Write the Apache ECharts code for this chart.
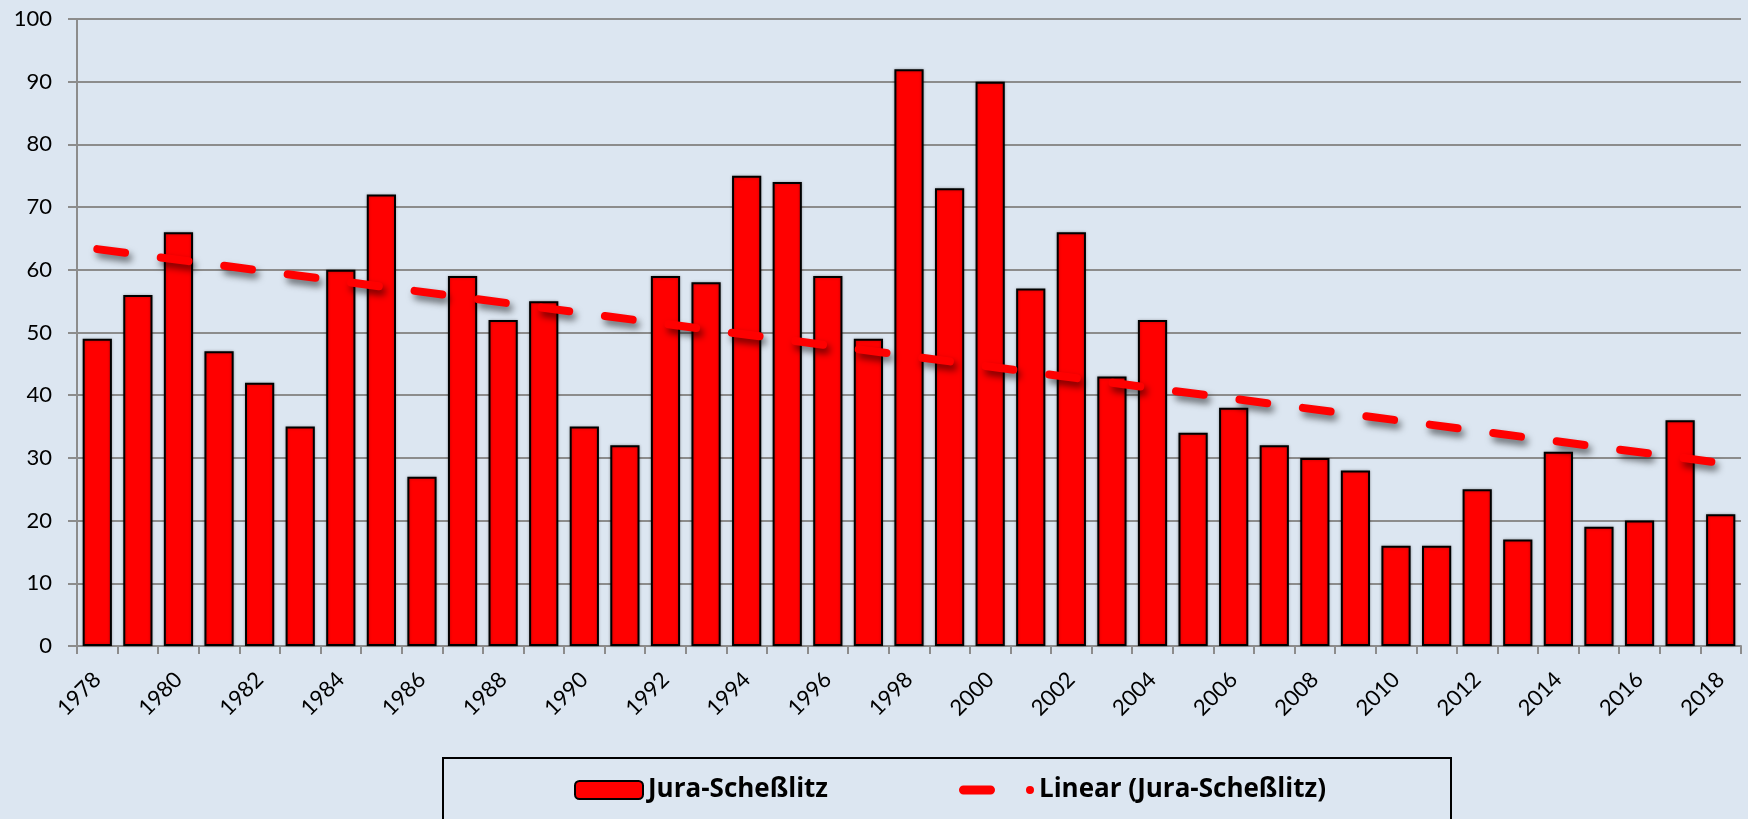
<!DOCTYPE html>
<html>
<head>
<meta charset="utf-8">
<script src="https://cdn.jsdelivr.net/npm/echarts@6/dist/echarts.min.js"></script>
<style>
html,body{margin:0;padding:0;background:#dce6f1;}
#chart{width:1748px;height:819px;}
</style>
</head>
<body>
<div id="chart"></div>
<script>
const years = ['1978','1979','1980','1981','1982','1983','1984','1985','1986','1987','1988','1989','1990','1991','1992','1993','1994','1995','1996','1997','1998','1999','2000','2001','2002','2003','2004','2005','2006','2007','2008','2009','2010','2011','2012','2013','2014','2015','2016','2017','2018'];
const values = [49,56,66,47,42,35,60,72,27,59,52,55,35,32,59,58,75,74,59,49,92,73,90,57,66,43,52,34,38,32,30,28,16,16,25,17,31,19,20,36,21];
const trendStart = 63.3;
const trendEnd = 29.2;
const seriesName = 'Jura-Scheßlitz';
const trendName = 'Linear (Jura-Scheßlitz)';
const yTicks = {min: 0, max: 100, interval: 10};

const trendData = years.map((y, i) => i === 0 ? trendStart : (i === years.length - 1 ? trendEnd : null));

const FONT = 'Lato';
const LEGEND_FONT = 'Open Sans';
const legendText = {fontFamily: LEGEND_FONT, fontSize: 26, fontWeight: 'bold', color: '#000', lineHeight: 26};
const dashIcon = 'path://M4.5,0 L31.5,0 A4.5,4.5 0 0 1 31.5,9 L4.5,9 A4.5,4.5 0 0 1 4.5,0 Z M67,4.5 A4,4 0 1 0 75,4.5 A4,4 0 1 0 67,4.5 Z';

const chart = echarts.init(document.getElementById('chart'), null, {renderer: 'canvas'});
chart.setOption({
  animation: false,
  backgroundColor: '#dce6f1',
  textStyle: {fontFamily: FONT},
  grid: {left: 77, right: 7, top: 19, bottom: 173},
  graphic: [{
    type: 'rect', silent: true, z: -1,
    shape: {x: 443, y: 758, width: 1008, height: 120},
    style: {fill: 'none', stroke: '#000', lineWidth: 2}
  }],
  legend: [{
    data: [seriesName],
    left: 574, top: 777, padding: 0,
    itemWidth: 68, itemHeight: 18,
    textStyle: legendText
  }, {
    data: [{name: trendName, icon: dashIcon}],
    left: 959, top: 777, padding: 0,
    itemWidth: 75, itemHeight: 9,
    itemStyle: {color: '#ff0000', borderWidth: 0, shadowBlur: 0},
    lineStyle: {width: 0},
    textStyle: legendText
  }],
  xAxis: {
    type: 'category',
    data: years,
    boundaryGap: true,
    axisLine: {lineStyle: {color: '#8c8c8c', width: 2}},
    axisTick: {show: true, interval: 0, length: 8, lineStyle: {color: '#8c8c8c', width: 2}},
    axisLabel: {interval: 1, rotate: 45, margin: 30, fontSize: 22, color: '#000', fontFamily: FONT}
  },
  yAxis: {
    type: 'value',
    min: yTicks.min, max: yTicks.max, interval: yTicks.interval,
    axisLine: {show: true, lineStyle: {color: '#8c8c8c', width: 2}},
    axisTick: {show: true, length: 9, lineStyle: {color: '#8c8c8c', width: 2}},
    axisLabel: {margin: 25, fontSize: 22, color: '#000', fontFamily: FONT},
    splitLine: {lineStyle: {color: '#8c8c8c', width: 2}}
  },
  series: [{
    name: seriesName,
    type: 'bar',
    data: values,
    barCategoryGap: '28%',
    itemStyle: {color: '#ff0000', borderColor: '#000', borderWidth: 2,
      shadowColor: 'rgba(0,0,0,0.25)', shadowBlur: 3}
  }, {
    name: trendName,
    type: 'line',
    data: trendData,
    connectNulls: true,
    symbol: 'none',
    z: 5,
    itemStyle: {color: '#ff0000'},
    lineStyle: {color: '#ff0000', width: 8, type: [28, 36], cap: 'round',
      shadowColor: 'rgba(0,0,0,0.55)', shadowBlur: 7, shadowOffsetX: 3, shadowOffsetY: 5}
  }]
});
</script>
</body>
</html>
